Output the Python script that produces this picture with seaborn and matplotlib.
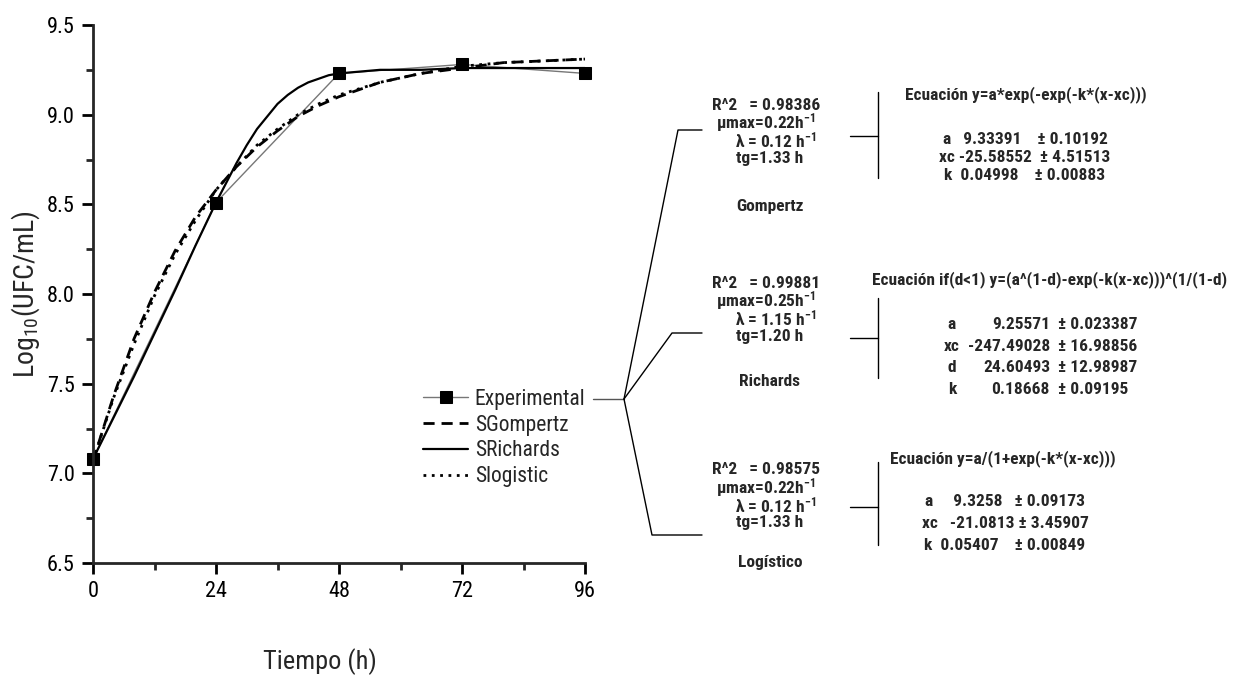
import numpy as np
import pandas as pd
import seaborn as sns
import matplotlib
matplotlib.use("Agg")
import matplotlib.pyplot as plt
from matplotlib import font_manager
from matplotlib.lines import Line2D
from matplotlib.ticker import MultipleLocator, FormatStrFormatter

# experimental counts
t_exp = [0, 24, 48, 72, 96]
y_exp = [7.08, 8.51, 9.23, 9.28, 9.23]

# fitted curves
t_fit = [0, 4, 8, 12, 16, 20, 24, 28, 32, 36, 40, 44, 48, 56, 64, 72, 80, 88, 96]
y_gompertz = [7.07, 7.43, 7.75, 8.01, 8.24, 8.43, 8.58, 8.71, 8.82, 8.91, 8.99, 9.05,
              9.10, 9.18, 9.23, 9.26, 9.29, 9.30, 9.31]
y_logistic = [7.07, 7.42, 7.72, 7.99, 8.22, 8.41, 8.58, 8.71, 8.83, 8.92, 9.00, 9.06,
              9.11, 9.18, 9.23, 9.27, 9.29, 9.30, 9.31]
t_rich = [0, 4, 8, 12, 16, 20, 24, 28, 30, 32, 34, 36, 38, 40, 42, 44, 46, 48, 52, 56,
          64, 72, 80, 88, 96]
y_richards = [7.08, 7.31, 7.54, 7.78, 8.02, 8.27, 8.51, 8.73, 8.83, 8.92, 8.99, 9.06,
              9.11, 9.15, 9.18, 9.20, 9.22, 9.23, 9.24, 9.25, 9.25, 9.26, 9.26, 9.26, 9.26]

legend_labels = ["Experimental", "SGompertz", "SRichards", "Slogistic"]

# fit summaries shown at the right
model_names = ["Gompertz", "Richards", "Logístico"]
r2_values = ["0.98386", "0.99881", "0.98575"]
mumax_values = ["0.22", "0.25", "0.22"]
lag_values = ["0.12", "1.15", "0.12"]
tg_values = ["1.33", "1.20", "1.33"]
equations = ["Ecuación y=a*exp(-exp(-k*(x-xc)))",
             "Ecuación if(d<1) y=(a^(1-d)-exp(-k(x-xc)))^(1/(1-d)",
             "Ecuación y=a/(1+exp(-k*(x-xc)))"]
gompertz_params = ["a   9.33391    ± 0.10192", "xc -25.58552  ± 4.51513", "k  0.04998    ± 0.00883"]
richards_names = ["a", "xc", "d", "k"]
richards_values = ["9.25571", "-247.49028", "24.60493", "0.18668"]
richards_errors = ["± 0.023387", "± 16.98856", "± 12.98987", "± 0.09195"]
logistic_params = ["a     9.3258   ± 0.09173", "xc   -21.0813 ± 3.45907", "k  0.05407    ± 0.00849"]

W, H = 1246, 675


def find_narrow():
    # look for a condensed sans face, the reference uses an Arial Narrow look
    prefs = ["Liberation Sans Narrow", "Arial Narrow", "Roboto Condensed", "Open Sans Condensed"]
    fonts = font_manager.fontManager.ttflist
    names = {f.name for f in fonts}
    for p in prefs:
        if p in names:
            return p, "normal"
    for fam in ["Noto Sans", "Open Sans", "Roboto", "Inter", "Lato"]:
        for f in fonts:
            st = f.stretch
            if isinstance(st, str):
                st = font_manager.stretch_dict.get(st, 500)
            if f.name == fam and st < 500:
                return fam, "condensed"
    for f in fonts:
        low = f.name.lower()
        if ("narrow" in low or "condensed" in low) and "mono" not in low and "serif" not in low:
            return f.name, "normal"
    return None, "normal"


narrow, stretch = find_narrow()
scale = 1.0
if narrow is None:
    narrow = "Liberation Sans"
    scale = 0.88

sns.set_style("ticks")
plt.rcParams["font.family"] = [narrow, "DejaVu Sans"]
plt.rcParams["font.stretch"] = stretch
plt.rcParams["mathtext.default"] = "regular"


def fx(x):
    return x / W


def fy(y):
    return 1 - y / H


x0, x1, ytop, ybot = 93, 585, 25, 563
fig = plt.figure(figsize=(W / 100, H / 100), dpi=100)
ax = fig.add_axes([fx(x0), fy(ybot), fx(x1) - fx(x0), fy(ytop) - fy(ybot)])

sns.lineplot(x=t_exp, y=y_exp, ax=ax, color="#777777", lw=1, marker="s", markersize=8,
             markerfacecolor="black", markeredgecolor="black", clip_on=False,
             label=legend_labels[0])
sns.lineplot(x=t_fit, y=y_gompertz, ax=ax, color="black", lw=2, linestyle=(0, (4, 2.5)),
             label=legend_labels[1])
sns.lineplot(x=t_rich, y=y_richards, ax=ax, color="black", lw=1.6, label=legend_labels[2])
sns.lineplot(x=t_fit, y=y_logistic, ax=ax, color="black", lw=2, linestyle=(0, (1, 2)),
             label=legend_labels[3])

ax.xaxis.set_major_locator(MultipleLocator(24))
ax.xaxis.set_minor_locator(MultipleLocator(12))
ax.yaxis.set_major_locator(MultipleLocator(0.5))
ax.yaxis.set_minor_locator(MultipleLocator(0.25))
ax.yaxis.set_major_formatter(FormatStrFormatter("%.1f"))
ax.set_xlim(0, 96)
ax.set_ylim(6.5, 9.5)
sns.despine(ax=ax)
for s in ["left", "bottom"]:
    ax.spines[s].set_linewidth(2)
ax.tick_params(which="major", direction="out", length=8, width=2, labelsize=16 * scale,
               colors="black", pad=5)
ax.tick_params(which="minor", direction="out", length=5, width=2)
ax.set_xlabel("Tiempo (h)", fontsize=19 * scale)
ax.set_ylabel("Log$_{10}$(UFC/mL)", fontsize=20 * scale)
ax.xaxis.set_label_coords((320 - x0) / (x1 - x0), -(648 - ybot) / (ybot - ytop))
ax.yaxis.set_label_coords(-(x0 - 42) / (x1 - x0), 0.5)

ax.legend(loc="center left", bbox_to_anchor=(fx(423), fy(438)), bbox_transform=fig.transFigure,
          frameon=False, fontsize=15.5 * scale, handlelength=2.1, handletextpad=0.3,
          labelspacing=0.22, borderpad=0, borderaxespad=0)


def seg(points, lw=1.0, color="black"):
    xs = [fx(p[0]) for p in points]
    ys = [fy(p[1]) for p in points]
    fig.add_artist(Line2D(xs, ys, transform=fig.transFigure, color=color, lw=lw))


# connectors from the legend to each block
seg([(593, 399), (624, 399)], color="#555555")
seg([(624, 399), (678, 130), (702, 130)])
seg([(624, 399), (672, 333), (702, 333)])
seg([(624, 399), (652, 535), (702, 535)])

block_top = [105, 283, 470]
name_y = [206, 382, 563]
bracket = [(92, 178, 136), (298, 378, 338), (462, 545, 507)]
eq_pos = [(905, 95), (872, 280), (890, 459)]
fs = 12.5 * scale
tkw = dict(fontsize=fs, fontweight="bold", ha="center", va="center")

for i in range(3):
    y0 = block_top[i]
    fig.text(fx(766), fy(y0), f"R^2   = {r2_values[i]}", **tkw)
    fig.text(fx(766), fy(y0 + 17.5), f"µmax={mumax_values[i]}h$^{{-1}}$", **tkw)
    fig.text(fx(776), fy(y0 + 35.5), f"λ = {lag_values[i]} h$^{{-1}}$", **tkw)
    fig.text(fx(770), fy(y0 + 53), f"tg={tg_values[i]} h", **tkw)
    fig.text(fx(770), fy(name_y[i]), model_names[i], **tkw)
    top, bot, tick = bracket[i]
    seg([(878, top), (878, bot)])
    seg([(850, tick), (878, tick)])
    fig.text(fx(eq_pos[i][0]), fy(eq_pos[i][1]), equations[i], fontsize=fs,
             fontweight="bold", ha="left", va="center")

for j, row in enumerate(gompertz_params):
    fig.text(fx(1025), fy(139 + 18 * j), row, **tkw)
for j in range(4):
    yy = fy(325 + 21.5 * j)
    fig.text(fx(952), yy, richards_names[j], **tkw)
    fig.text(fx(1050), yy, richards_values[j], fontsize=fs, fontweight="bold", ha="right", va="center")
    fig.text(fx(1058), yy, richards_errors[j], fontsize=fs, fontweight="bold", ha="left", va="center")
for j, row in enumerate(logistic_params):
    fig.text(fx(1005), fy(502 + 21.5 * j), row, **tkw)

fig.savefig("out.png", dpi=100)
